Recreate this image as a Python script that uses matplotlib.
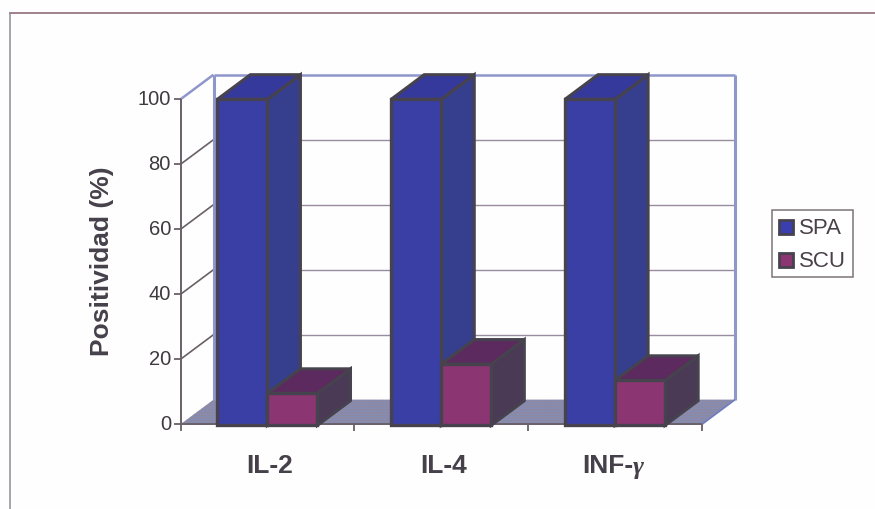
import matplotlib
matplotlib.use("Agg")
import matplotlib.pyplot as plt
from matplotlib.patches import Polygon, Rectangle

categories = ["IL-2", "IL-4", "INF-"]
spa_values = [100, 100, 100]
scu_values = [9.5, 18.5, 13.5]
y_ticks = [0, 20, 40, 60, 80, 100]
legend_labels = ["SPA", "SCU"]

W, H = 875, 509
plt.rcParams["font.family"] = ["Liberation Sans", "DejaVu Sans"]
plt.rcParams["hatch.linewidth"] = 1.0
fig = plt.figure(figsize=(W / 100, H / 100), dpi=100)
fig.patch.set_facecolor("#fefefe")

# Front plane of the oblique box: category axis along x, percentage along y.
left, right, y0, y100 = 180.5, 702, 424.3, 99.3
ax = fig.add_axes([left / W, 1 - y0 / H, (right - left) / W, (y0 - y100) / H])
ax.set_xlim(0, len(categories))
ax.set_ylim(0, 100)
ax.axis("off")

# Depth offset of the oblique projection, in data units.
unit_x = (right - left) / len(categories)
dx = 33 / unit_x
dy = 24.6 / ((y0 - y100) / 100)
bar_w = 0.288

WALL = "#8f96cc"
GRID = "#9a8ca0"
AXIS = "#6a6068"
EDGE = "#46424e"
TEXT = "#45404a"


def poly(points, face, edge="none", lw=0, z=1, **kw):
    ax.add_patch(Polygon(points, closed=True, facecolor=face, edgecolor=edge,
                         linewidth=lw, zorder=z, clip_on=False, joinstyle="miter", **kw))


def line(xs, ys, color, lw, z=1):
    ax.plot(xs, ys, color=color, lw=lw, zorder=z, clip_on=False, solid_capstyle="butt")


n = len(categories)

# Floor, stippled blue over grey, and back wall
floor = [(0, 0), (n, 0), (n + dx, dy), (dx, dy)]
poly(floor, "#8f889c", edge="#7f90c8", lw=0, z=1, hatch="......")
for v in y_ticks[1:-1]:
    line([0, dx], [v, v + dy], AXIS, 1.2, z=2)
    line([dx, n + dx], [v + dy, v + dy], GRID, 1.0, z=2)
line([0, dx], [100, 100 + dy], WALL, 1.8, z=2)
line([dx, n + dx], [100 + dy, 100 + dy], WALL, 1.8, z=2)
line([dx, dx], [dy, 100 + dy], WALL, 2.2, z=2)
line([n + dx, n + dx], [dy, 100 + dy], WALL, 2.2, z=2)
line([n, n + dx], [0, dy], "#6f7cc0", 1.2, z=2)

# Axes with outward ticks
line([0, 0], [0, 100], AXIS, 1.4, z=3)
line([0, n], [0, 0], AXIS, 1.4, z=3)
for v in y_ticks:
    line([-0.04, 0], [v, v], AXIS, 1.3, z=3)
    ax.text(-0.055, v - 0.2, str(v), ha="right", va="center", fontsize=14.5, color="#3f3a40")
for i in range(n + 1):
    line([i, i], [-2.1, 0], AXIS, 1.3, z=3)


def box(x, width, value, front, top, side, z):
    base = -0.3
    poly([(x + width, base), (x + width + dx, base + dy),
          (x + width + dx, value + dy), (x + width, value)], side, EDGE, 2.2, z)
    poly([(x, value), (x + width, value),
          (x + width + dx, value + dy), (x + dx, value + dy)], top, EDGE, 2.2, z)
    poly([(x, base), (x + width, base), (x + width, value), (x, value)], front, EDGE, 2.4, z)


# Each cluster is drawn from its blue column to its purple one.
label_y = -12.7
label_shift = 2.5 / unit_x
for i, (spa, scu) in enumerate(zip(spa_values, scu_values)):
    c = i + 0.5
    box(c - bar_w, bar_w, spa, "#3a3fa6", "#36399c", "#363f8e", 5 + i * 2)
    box(c, bar_w, scu, "#8b3572", "#5c2a5e", "#4a3a56", 6 + i * 2)
    if i < 2:
        ax.text(c + label_shift, label_y, categories[i], ha="center", va="center",
                fontsize=19, fontweight="bold", color=TEXT, zorder=20)

# The third label mixes a bold sans run with a serif italic gamma.
t = ax.text((582 - left) / unit_x, label_y, categories[2], ha="left", va="center",
            fontsize=19, fontweight="bold", color=TEXT, zorder=20)
ax.annotate("\u03b3", xy=(1, 0.5), xycoords=t, xytext=(0, -1.5), textcoords="offset points",
            ha="left", va="center", fontsize=19, fontstyle="italic", fontweight="bold",
            family="Liberation Serif", color=TEXT, zorder=20)

# Figure-level items are placed on a pixel overlay.
over = fig.add_axes([0, 0, 1, 1], zorder=30)
over.set_xlim(0, W)
over.set_ylim(H, 0)
over.axis("off")
over.patch.set_alpha(0)

over.text(102, 261, "Positividad (%)", rotation=90, ha="center", va="center",
          fontsize=19, fontweight="bold", color=TEXT)

# Page rules
over.plot([9.5, 875], [12.8, 12.8], color="#85606e", lw=1.1)
over.plot([9.5, 9.5], [12.8, 509], color="#908c98", lw=1.1)

# Legend
over.add_patch(Rectangle((771.7, 210), 81.3, 67, facecolor="white", edgecolor="#7d7478", lw=1.1))
for label, yc, col in zip(legend_labels, (227, 260), ("#3a3fb0", "#8b3572")):
    over.add_patch(Rectangle((779, yc - 7), 14, 14, facecolor=col, edgecolor=EDGE, lw=2))
    over.text(799, yc + 1.5, label, ha="left", va="center", fontsize=16, color="#4a4048")

fig.savefig("out.png", dpi=100, facecolor=fig.get_facecolor())
